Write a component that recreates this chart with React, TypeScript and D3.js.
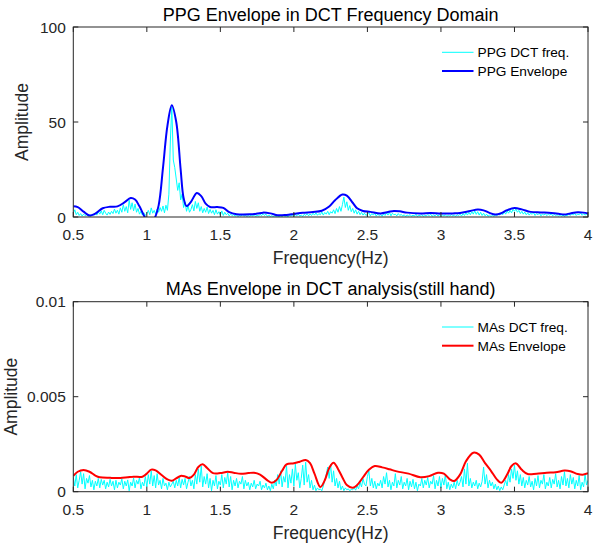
import React from 'react'
import * as d3 from 'd3'

// frequency grid of the raw DCT spectra (Hz)
const freqStart = 0.5
const freqStep = 0.01

const xTicks = [0.5, 1, 1.5, 2, 2.5, 3, 3.5, 4]
const xTickLabels = ['0.5', '1', '1.5', '2', '2.5', '3', '3.5', '4']

const ppgYTicks = [0, 50, 100]
const ppgYTickLabels = ['0', '50', '100']
// MAs amplitudes are kept in units of 1e-3
const maYTicks = [0, 5, 10]
const maYTickLabels = ['0', '0.005', '0.01']

// PPG DCT spectrum, 0.50 .. 4.00 Hz
const ppgRaw = [
  2.0, 3.8, 1.2, 2.5, 0.8, 1.8, 0.5, 1.5, 0.7, 1.2,
  0.4, 1.0, 0.3, 1.6, 0.8, 2.2, 1.0, 2.8, 1.5, 3.2,
  1.2, 3.5, 2.0, 1.0, 2.6, 1.4, 3.0, 1.8, 4.2, 2.0,
  3.6, 1.5, 4.8, 2.5, 6.5, 3.0, 5.5, 2.2, 8.8, 4.0,
  7.5, 3.2, 6.8, 2.5, 4.5, 1.5, 3.0, 1.0, 2.2, 0.8,
  1.8, 3.5, 1.2, 4.8, 2.0, 3.5, 1.5, 4.2, 2.5, 5.0,
  3.0, 5.8, 2.2, 6.2, 3.5, 12, 40, 58, 30, 26,
  20, 14, 18, 9, 12, 5, 8, 3, 6, 2.5,
  4.0, 6.5, 3.2, 8.2, 4.5, 7.5, 3.0, 5.5, 2.2, 4.5,
  2.5, 5.2, 1.8, 4.0, 2.0, 3.5, 1.2, 3.8, 1.5, 2.8,
  1.0, 3.2, 0.8, 2.5, 1.2, 2.0, 0.6, 1.5, 0.8, 1.2,
  0.5, 1.0, 0.3, 0.8, 0.5, 1.2, 0.4, 0.9, 0.3, 0.7,
  0.4, 1.0, 0.6, 1.2, 0.3, 0.9, 0.5, 1.4, 0.7, 1.8,
  0.8, 1.5, 0.4, 1.0, 0.3, 0.7, 0.2, 0.6, 0.3, 0.5,
  0.2, 0.6, 0.3, 0.8, 0.4, 0.5, 0.2, 0.9, 0.5, 1.0,
  0.4, 1.2, 0.6, 1.5, 0.5, 1.0, 0.3, 1.4, 0.8, 1.8,
  0.6, 1.6, 0.8, 2.0, 1.0, 2.2, 0.9, 1.8, 1.2, 2.6,
  1.0, 2.4, 1.5, 3.0, 1.2, 2.8, 2.0, 3.8, 1.8, 4.5,
  2.5, 5.5, 3.0, 6.5, 10.5, 5.0, 8.0, 3.5, 6.0, 2.8,
  4.5, 2.0, 3.8, 1.5, 3.0, 1.2, 2.5, 1.0, 2.0, 0.8,
  1.5, 2.2, 0.6, 1.8, 1.0, 2.0, 0.5, 1.5, 0.8, 1.2,
  0.4, 1.6, 0.8, 2.2, 1.0, 2.5, 0.6, 2.0, 1.2, 1.5,
  0.6, 1.8, 0.8, 1.4, 0.5, 1.2, 0.3, 1.0, 0.6, 1.3,
  0.4, 1.0, 0.5, 1.5, 0.3, 0.9, 0.6, 1.2, 0.4, 1.0,
  0.5, 1.3, 0.7, 1.5, 0.4, 1.1, 0.6, 1.4, 0.5, 1.2,
  0.4, 1.0, 0.6, 1.2, 0.3, 0.9, 0.5, 1.3, 0.6, 1.1,
  0.4, 1.2, 0.7, 1.5, 0.5, 1.8, 0.8, 2.2, 1.0, 2.5,
  1.2, 2.8, 1.5, 3.2, 1.4, 2.8, 1.0, 2.5, 0.8, 2.0,
  0.6, 1.5, 0.4, 1.0, 0.3, 0.8, 0.4, 1.0, 0.6, 1.5,
  1.0, 2.2, 1.2, 2.8, 1.5, 3.2, 2.0, 3.5, 2.2, 4.0,
  3.0, 4.2, 2.5, 3.5, 1.8, 3.0, 1.5, 2.6, 1.2, 2.2,
  1.0, 2.0, 1.4, 2.2, 0.8, 1.8, 1.2, 2.0, 0.6, 1.6,
  1.0, 1.8, 0.7, 1.5, 1.0, 1.7, 0.6, 1.4, 0.8, 1.2,
  0.5, 1.2, 0.4, 1.0, 0.3, 0.9, 0.6, 1.5, 0.8, 1.8,
  1.0, 2.0, 0.8, 1.6, 1.2, 2.2, 0.9, 1.7, 1.0, 1.5,
  1.0,
]

// PPG envelope, [freq, amplitude]
const ppgEnvelope: [number, number][] = [
  [0.5, 5.6], [0.53, 5.2], [0.57, 2.8], [0.61, 0.8], [0.65, 1.8], [0.7, 4.6],
  [0.75, 5.4], [0.8, 5.6], [0.85, 7.8], [0.89, 10], [0.92, 9.2], [0.95, 5.6],
  [0.99, -0.5], [1.02, -3], [1.05, -1], [1.08, 6], [1.11, 26], [1.14, 48],
  [1.17, 58.8], [1.2, 50], [1.23, 25], [1.25, 10], [1.27, 5.8], [1.3, 8],
  [1.34, 12.6], [1.37, 11], [1.4, 7], [1.43, 5.3], [1.48, 5.2], [1.52, 4.8],
  [1.56, 2.6], [1.61, 1.5], [1.7, 1.4], [1.75, 1.8], [1.79, 2.3], [1.84, 1.9],
  [1.89, 0.9], [1.95, 1.1], [2.0, 1.6], [2.06, 2.2], [2.13, 2.6], [2.19, 3.3],
  [2.24, 5.5], [2.28, 8.8], [2.33, 11.8], [2.36, 11.2], [2.4, 7.5], [2.43, 4.6],
  [2.47, 3.2], [2.52, 2.7], [2.59, 1.9], [2.64, 2.6], [2.68, 3.2], [2.72, 3],
  [2.77, 2.3], [2.86, 1.9], [2.93, 2.1], [3.0, 1.8], [3.08, 1.9], [3.13, 2.1],
  [3.2, 3.2], [3.25, 3.9], [3.29, 3.5], [3.33, 2.2], [3.37, 1.3], [3.41, 2],
  [3.45, 3.6], [3.5, 4.7], [3.55, 4], [3.61, 2.7], [3.68, 2.4], [3.75, 2.1],
  [3.8, 1.7], [3.84, 1.3], [3.88, 1.9], [3.93, 2.5], [3.97, 2.3], [4.0, 1.8],
]

// MAs DCT spectrum (x1e-3), 0.50 .. 4.00 Hz
const maRaw = [
  0.75, 0.3, 0.9, 0.2, 0.6, 1.05, 0.4, 0.95, 0.15, 0.7,
  0.45, 0.85, 0.25, 0.6, 0.1, 0.55, 0.3, 0.7, 0.2, 0.65,
  0.35, 0.6, 0.15, 0.5, 0.25, 0.65, 0.3, 0.55, 0.1, 0.6,
  0.2, 0.5, 0.35, 0.68, 0.15, 0.55, 0.3, 0.62, 0.05, 0.5,
  0.3, 0.72, 0.2, 0.6, 0.4, 0.75, 0.15, 0.5, 0.3, 0.8,
  0.25, 0.9, 0.4, 1.1, 0.3, 0.85, 0.2, 0.95, 0.35, 0.6,
  0.15, 0.7, 0.3, 0.45, 0.1, 0.5, 0.25, 0.4, 0.55, 0.2,
  0.6, 0.3, 0.75, 0.2, 0.65, 0.35, 0.7, 0.15, 0.5, 0.8,
  0.3, 0.6, 0.15, 0.9, 0.4, 1.2, 0.5, 1.35, 0.25, 0.8,
  0.4, 0.95, 0.2, 0.7, 0.05, 0.6, 0.3, 0.85, 0.15, 0.55,
  0.35, 0.9, 0.2, 0.75, 0.4, 1.0, 0.25, 0.8, 0.1, 0.6,
  0.3, 0.7, 0.2, 0.55, 0.4, 0.8, 0.15, 0.6, 0.3, 0.5,
  0.1, 0.45, 0.25, 0.6, 0.15, 0.4, 0.3, 0.55, 0.1, 0.35,
  0.2, 0.45, 0.1, 0.3, 0.05, 0.4, 0.15, 0.6, 0.3, 0.9,
  0.4, 1.1, 0.25, 0.8, 0.5, 1.35, 0.2, 0.9, 0.45, 1.2,
  0.3, 1.45, 0.6, 1.0, 0.2, 0.7, 1.4, 0.35, 1.55, 0.5,
  0.9, 0.2, 0.6, 0.1, 0.35, 0.05, 0.2, 0.1, 0.15, 0.05,
  0.3, 0.6, 0.9, 1.3, 0.7, 1.45, 0.5, 1.1, 0.3, 0.7,
  0.2, 0.55, 0.1, 0.3, 0.05, 0.2, 0.1, 0.15, 0.05, 0.12,
  0.1, 0.2, 0.08, 0.3, 0.15, 0.5, 0.25, 0.7, 0.4, 0.3,
  0.8, 1.1, 0.3, 0.7, 0.2, 0.55, 0.15, 0.45, 0.3, 0.6,
  0.2, 0.8, 0.4, 1.0, 0.25, 0.6, 0.1, 0.5, 0.3, 0.95,
  0.2, 0.6, 0.35, 0.8, 0.15, 0.5, 0.3, 0.7, 0.1, 0.55,
  0.25, 0.65, 0.15, 0.5, 0.05, 0.4, 0.3, 0.7, 0.2, 0.6,
  0.35, 0.75, 0.2, 0.55, 0.4, 0.85, 0.15, 0.6, 0.3, 0.8,
  0.2, 0.7, 0.35, 0.9, 0.15, 0.5, 0.1, 0.4, 0.2, 0.5,
  0.15, 0.6, 0.3, 0.5, 0.8, 0.25, 1.2, 0.4, 1.5, 0.3,
  0.7, 0.2, 0.5, 0.3, 0.6, 0.15, 0.45, 0.25, 0.55, 1.3,
  0.4, 0.9, 0.2, 0.6, 0.3, 0.5, 0.15, 0.4, 0.1, 0.3,
  0.05, 0.25, 0.1, 0.35, 0.6, 0.3, 0.9, 0.5, 1.2, 0.7,
  1.4, 0.6, 1.1, 0.4, 0.9, 0.3, 0.75, 0.2, 0.6, 0.35,
  0.8, 0.25, 0.55, 0.1, 0.7, 0.3, 0.85, 0.2, 0.6, 0.4,
  0.9, 0.15, 0.5, 0.3, 0.75, 0.2, 0.65, 0.4, 0.95, 0.25,
  0.6, 0.15, 0.8, 0.35, 1.05, 0.3, 0.7, 0.2, 0.9, 0.4,
  0.75, 0.15, 0.6, 0.3, 0.85, 0.1, 0.5, 0.25, 0.9, 0.35,
  0.6,
]

// MAs envelope, [freq, amplitude x1e-3]
const maEnvelope: [number, number][] = [
  [0.5, 0.83], [0.53, 1.05], [0.57, 1.14], [0.61, 1.05], [0.65, 0.85], [0.68, 0.76],
  [0.75, 0.73], [0.82, 0.72], [0.87, 0.76], [0.91, 0.79], [0.97, 0.79], [1.0, 0.95],
  [1.03, 1.16], [1.06, 1.12], [1.1, 0.88], [1.14, 0.65], [1.17, 0.58], [1.2, 0.7],
  [1.23, 0.83], [1.26, 0.8], [1.29, 0.72], [1.32, 0.9], [1.35, 1.3], [1.38, 1.44],
  [1.41, 1.25], [1.45, 0.98], [1.5, 0.98], [1.55, 1.05], [1.59, 1.0], [1.64, 0.94],
  [1.69, 0.98], [1.73, 1.0], [1.77, 0.9], [1.82, 0.6], [1.85, 0.47], [1.88, 0.6],
  [1.92, 1.1], [1.95, 1.44], [2.0, 1.5], [2.04, 1.58], [2.08, 1.67], [2.11, 1.5],
  [2.14, 0.95], [2.18, 0.25], [2.21, 0.6], [2.24, 1.25], [2.27, 1.53], [2.3, 1.2],
  [2.33, 0.75], [2.36, 0.35], [2.4, 0.21], [2.43, 0.35], [2.47, 0.76], [2.51, 1.15],
  [2.55, 1.35], [2.6, 1.28], [2.65, 1.18], [2.7, 1.07], [2.78, 0.95], [2.86, 0.76],
  [2.92, 0.82], [2.98, 1.0], [3.02, 0.95], [3.06, 0.65], [3.09, 0.56], [3.13, 0.9],
  [3.17, 1.6], [3.22, 2.05], [3.26, 1.95], [3.3, 1.5], [3.34, 1.1], [3.38, 0.65],
  [3.41, 0.47], [3.45, 0.9], [3.48, 1.35], [3.51, 1.49], [3.55, 1.15], [3.59, 0.93],
  [3.65, 0.95], [3.72, 1.0], [3.78, 1.02], [3.84, 1.11], [3.88, 1.08], [3.93, 0.93],
  [3.97, 0.9], [4.0, 0.97],
]

const W = 602
const H = 545
const FONT = '"Liberation Sans", Arial, Helvetica, sans-serif'
const INK = '#262626'

function Panel({ top, title, raw, env, yMax, yTicks, yTickLabels, rawName, envName, envColor, ylabelX, id }) {
  const left = 73.3
  const right = 588
  const ph = 190
  const bottom = top + ph

  const x = d3.scaleLinear().domain([0.5, 4]).range([left, right])
  const y = d3.scaleLinear().domain([0, yMax]).range([bottom, top])

  const rawLine = d3
    .line<number>()
    .x((d, i) => x(freqStart + i * freqStep))
    .y(d => y(d))
  const envLine = d3
    .line<[number, number]>()
    .x(d => x(d[0]))
    .y(d => y(d[1]))
    .curve(d3.curveCatmullRom.alpha(0.5))

  const tick = 5
  return (
    <g>
      <defs>
        <clipPath id={id}>
          <rect x={left} y={top} width={right - left} height={ph} />
        </clipPath>
      </defs>
      <rect x={left} y={top} width={right - left} height={ph} fill="#fff" />
      <g clipPath={`url(#${id})`}>
        <path d={rawLine(raw)} fill="none" stroke="#00ffff" strokeWidth={1} />
        <path d={envLine(env)} fill="none" stroke={envColor} strokeWidth={2} />
      </g>
      {/* box + ticks */}
      <rect x={left} y={top} width={right - left} height={ph} fill="none" stroke={INK} strokeWidth={1} />
      {xTicks.map((t, i) => (
        <g key={'x' + i}>
          <line x1={x(t)} x2={x(t)} y1={bottom} y2={bottom - tick} stroke={INK} />
          <line x1={x(t)} x2={x(t)} y1={top} y2={top + tick} stroke={INK} />
          <text x={x(t)} y={bottom + 23} textAnchor="middle" fontSize={15.5} fill={INK}>
            {xTickLabels[i]}
          </text>
        </g>
      ))}
      {yTicks.map((t, i) => (
        <g key={'y' + i}>
          <line x1={left} x2={left + tick} y1={y(t)} y2={y(t)} stroke={INK} />
          <line x1={right} x2={right - tick} y1={y(t)} y2={y(t)} stroke={INK} />
          <text x={left - 7.5} y={y(t)} dy="0.36em" textAnchor="end" fontSize={15.5} fill={INK}>
            {yTickLabels[i]}
          </text>
        </g>
      ))}
      <text x={(left + right) / 2} y={top - 6.5} textAnchor="middle" fontSize={18} fill="#000">
        {title}
      </text>
      <text x={(left + right) / 2} y={bottom + 47} textAnchor="middle" fontSize={17.5} fill={INK}>
        Frequency(Hz)
      </text>
      <text
        transform={`translate(${ylabelX},${(top + bottom) / 2}) rotate(-90)`}
        textAnchor="middle"
        fontSize={17.5}
        fill={INK}
      >
        Amplitude
      </text>
      {/* legend */}
      <line x1={442} x2={473.5} y1={top + 25.3} y2={top + 25.3} stroke="#00ffff" strokeWidth={1} />
      <text x={477.5} y={top + 25.3} dy="0.36em" fontSize={13.7} fill="#000">
        {rawName}
      </text>
      <line x1={442} x2={473.5} y1={top + 44} y2={top + 44} stroke={envColor} strokeWidth={2} />
      <text x={477.5} y={top + 44} dy="0.36em" fontSize={13.7} fill="#000">
        {envName}
      </text>
    </g>
  )
}

export default function App() {
  return (
    <svg
      width={W}
      height={H}
      style={{ position: 'absolute', left: 0, top: 0, background: '#fff' }}
      fontFamily={FONT}
    >
      <rect width={W} height={H} fill="#fff" />
      <Panel
        id="clipTop"
        top={27}
        title="PPG Envelope in DCT Frequency Domain"
        raw={ppgRaw}
        env={ppgEnvelope}
        yMax={100}
        yTicks={ppgYTicks}
        yTickLabels={ppgYTickLabels}
        rawName="PPG DCT freq."
        envName="PPG Envelope"
        envColor="#0000ff"
        ylabelX={28}
      />
      <Panel
        id="clipBottom"
        top={301.7}
        title="MAs Envelope in DCT analysis(still hand)"
        raw={maRaw}
        env={maEnvelope}
        yMax={10}
        yTicks={maYTicks}
        yTickLabels={maYTickLabels}
        rawName="MAs DCT freq."
        envName="MAs Envelope"
        envColor="#ff0000"
        ylabelX={16.5}
      />
    </svg>
  )
}
